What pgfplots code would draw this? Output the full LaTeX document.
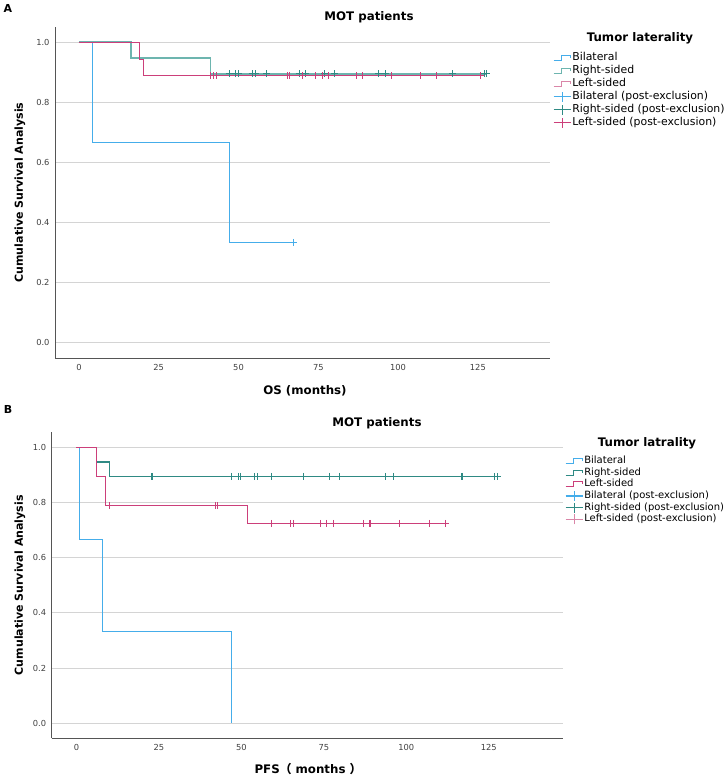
\documentclass[border=0pt]{standalone}
\usepackage{fontspec}
\setmainfont{DejaVu Sans}
\newfontfamily\cjk{Noto Sans CJK SC}
\usepackage{pgfplots}
\pgfplotsset{compat=1.18}
\definecolor{kmblue}{HTML}{45ADEA}
\definecolor{kmteal}{HTML}{2F8A84}
\definecolor{kmteallight}{HTML}{6DB5AF}
\definecolor{kmred}{HTML}{CC3F7A}
\definecolor{kmpink}{HTML}{DA86A8}
\definecolor{gridgray}{HTML}{D4D4D4}
\definecolor{axisgray}{HTML}{555555}
\pgfplotsset{
 kmaxis/.style={
  scale only axis, anchor=south west,
  xmin=-7.5, xmax=147.6,
  axis x line*=bottom, axis y line*=left,
  axis line style={axisgray, line width=0.9pt, -},
  xtick={0,25,50,75,100,125},
  ytick={0,0.2,0.4,0.6,0.8,1.0},
  yticklabel style={/pgf/number format/fixed, /pgf/number format/fixed zerofill, /pgf/number format/precision=1, xshift=-2pt},
  xticklabel style={yshift=-3pt},
  major tick length=0pt,
  ymajorgrids, grid style={gridgray, line width=0.9pt},
  tick label style={font=\fontsize{8.3}{10}\selectfont, text=black!75},
  /pgf/number format/assume math mode=true,
  legend cell align=left,
  clip=false,
 },
 stepicon/.style={legend image code/.code={\draw[##1, line width=1.1pt] (0pt,-2.5pt) -- (8pt,-2.5pt) -- (8pt,2.5pt) -- (17pt,2.5pt) -- (17pt,0pt);}},
 plusicon/.style={legend image code/.code={\draw[##1, line width=1.1pt] (0pt,0pt) -- (17pt,0pt); \draw[##1, line width=1.1pt] (8.5pt,-5pt) -- (8.5pt,5pt);}},
 censor/.style={only marks, mark=+, mark size=3.5pt, mark options={line width=1.1pt}, forget plot},
 kmline/.style={const plot, line width=1.2pt, forget plot},
}
\begin{document}
\begin{tikzpicture}[x=1pt,y=1pt]
\path[use as bounding box] (0,0) rectangle (727,777);
% ---------------- Panel A ----------------
\begin{axis}[kmaxis, at={(55pt,418.7pt)}, width=495pt, height=331.6pt,
  ymin=-0.053, ymax=1.052,
  legend style={at={(1.006,0.925)}, anchor=north west, draw=none, fill=none, inner sep=0pt,
    font=\fontsize{10.9}{12}\selectfont, row sep=0.8pt,
    nodes={inner sep=1pt, text height=7.8pt, text depth=2.4pt}}]
\addlegendimage{color=kmblue, stepicon}\addlegendentry{Bilateral}
\addlegendimage{color=kmteallight, stepicon}\addlegendentry{Right-sided}
\addlegendimage{color=kmpink, stepicon}\addlegendentry{Left-sided}
\addlegendimage{color=kmblue, plusicon}\addlegendentry{Bilateral (post-exclusion)}
\addlegendimage{color=kmteal, plusicon}\addlegendentry{Right-sided (post-exclusion)}
\addlegendimage{color=kmred, plusicon}\addlegendentry{Left-sided (post-exclusion)}
% Bilateral
\addplot[kmline, color=kmblue] coordinates {(0,1)(4.2,0.667)(47.1,0.333)(67.2,0.333)};
\addplot[censor, color=kmblue] coordinates {(67.2,0.333)};
% Right-sided
\addplot[kmline, color=kmteallight, line width=1.8pt] coordinates {(0,1)(16.2,0.947)(41.2,0.895)(127.8,0.895)};
\addplot[censor, color=kmteal] coordinates {(47.1,0.895)(49.0,0.895)(50.0,0.895)(54.3,0.895)(55.2,0.895)(58.8,0.895)(69.1,0.895)(71.0,0.895)(77.0,0.895)(80.0,0.895)(93.9,0.895)(96.0,0.895)(117.1,0.895)(127.0,0.895)(127.8,0.895)};
% Left-sided
\addplot[kmline, color=kmred] coordinates {(0,1)(19.1,0.944)(20.2,0.889)(125.9,0.889)};
\addplot[censor, color=kmred] coordinates {(41.3,0.889)(42.2,0.889)(43.0,0.889)(65.4,0.889)(65.9,0.889)(70.1,0.889)(74.2,0.889)(76.2,0.889)(78.2,0.889)(87.0,0.889)(88.9,0.889)(98.0,0.889)(107.1,0.889)(112.1,0.889)(125.9,0.889)};
\end{axis}
% ---------------- Panel B ----------------
\begin{axis}[kmaxis, at={(51.7pt,38.7pt)}, width=511.6pt, height=306pt,
  ymin=-0.0545, ymax=1.0545,
  legend style={at={(1.0033,0.926)}, anchor=north west, draw=none, fill=none, inner sep=0pt,
    font=\fontsize{10}{11}\selectfont, row sep=0.2pt,
    nodes={inner sep=1pt, text height=7.3pt, text depth=2.2pt}}]
\addlegendimage{color=kmblue, stepicon}\addlegendentry{Bilateral}
\addlegendimage{color=kmteal, stepicon}\addlegendentry{Right-sided}
\addlegendimage{color=kmred, stepicon}\addlegendentry{Left-sided}
\addlegendimage{color=kmblue, plusicon}\addlegendentry{Bilateral (post-exclusion)}
\addlegendimage{color=kmteal, plusicon}\addlegendentry{Right-sided (post-exclusion)}
\addlegendimage{color=kmpink, plusicon}\addlegendentry{Left-sided (post-exclusion)}
% Bilateral
\addplot[kmline, color=kmblue] coordinates {(0,1)(0.9,0.667)(8.0,0.333)(46.9,0)(46.9,0)};
% Right-sided
\addplot[kmline, color=kmteal] coordinates {(0,1)(6.0,0.947)(10.0,0.895)(127.7,0.895)};
\addplot[censor, color=kmteal] coordinates {(22.9,0.895)(46.9,0.895)(49.0,0.895)(49.8,0.895)(53.9,0.895)(54.8,0.895)(59.0,0.895)(68.9,0.895)(76.7,0.895)(79.8,0.895)(93.7,0.895)(96.0,0.895)(116.9,0.895)(126.8,0.895)(127.7,0.895)};
% Left-sided
\addplot[kmline, color=kmred] coordinates {(0,1)(6.0,0.895)(8.9,0.789)(51.9,0.724)(112.0,0.724)};
\addplot[censor, color=kmred] coordinates {(9.9,0.789)(42.1,0.789)(42.8,0.789)(59.0,0.724)(64.9,0.724)(65.8,0.724)(73.9,0.724)(75.9,0.724)(77.9,0.724)(86.9,0.724)(89.0,0.724)(97.9,0.724)(106.9,0.724)(112.0,0.724)};
\end{axis}
% ---------------- Texts ----------------
\tikzset{ttl/.style={font=\bfseries\fontsize{11.8}{13}\selectfont, inner sep=0pt}}
\node[ttl] at (369,760) {MOT patients};
\node[ttl] at (640,739) {Tumor laterality};
\node[ttl] at (305,386) {OS (months)};
\node[ttl, rotate=90, font=\bfseries\fontsize{11}{12}\selectfont] at (20,584.5) {Cumulative Survival Analysis};
\node[font=\bfseries\fontsize{11}{12}\selectfont, inner sep=0pt] at (8,769) {A};
\node[ttl] at (377,354) {MOT patients};
\node[ttl] at (647,334) {Tumor latrality};
\node[ttl] at (308,8) {PFS{\cjk （} months {\cjk ）}};
\node[ttl, rotate=90, font=\bfseries\fontsize{11}{12}\selectfont] at (20,191.7) {Cumulative Survival Analysis};
\node[font=\bfseries\fontsize{11}{12}\selectfont, inner sep=0pt] at (8,368) {B};
\end{tikzpicture}
\end{document}
